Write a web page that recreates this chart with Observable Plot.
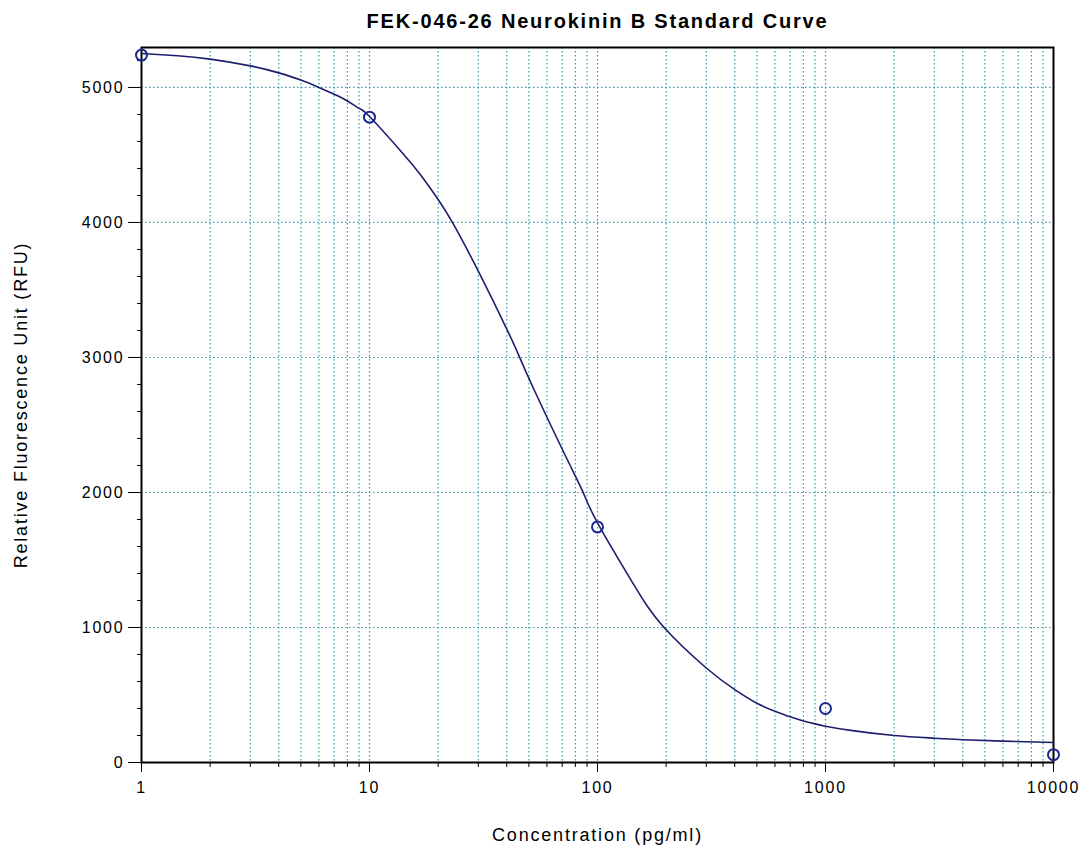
<!DOCTYPE html>
<html>
<head>
<meta charset="utf-8">
<script src="https://cdn.jsdelivr.net/npm/d3@7"></script>
<script src="https://cdn.jsdelivr.net/npm/@observablehq/plot@0.6"></script>
<style>
  html, body { margin: 0; padding: 0; background: #fff; }
  #chart svg text { letter-spacing: 1.8px; }
</style>
</head>
<body>
<div id="chart"></div>
<script>
// Measured standards
const stdConc = [1, 10, 100, 1000, 10000];
const stdRFU = [5240, 4780, 1745, 400, 58];

// Fitted curve
const curveConc = [1, 1.44, 2, 3, 4, 5, 6, 7, 8, 9, 10, 13.7, 16.7, 20, 23.1, 30, 40, 45.3, 52.4, 71, 86, 100, 144, 195, 300, 400, 500, 600, 700, 800, 900, 1000, 1290, 2000, 3000, 4000, 6000, 10000];
const curveRFU = [5252, 5235, 5210, 5160, 5108, 5055, 5000, 4950, 4900, 4845, 4785, 4530, 4355, 4170, 4000, 3640, 3210, 3010, 2770, 2300, 2010, 1775, 1320, 1003, 700, 540, 439, 380, 338, 308, 286, 269, 238, 200, 180, 168, 158, 148];

// Axis ticks
const xMajor = [1, 10, 100, 1000, 10000];
const xMinor = [2,3,4,5,6,7,8,9,20,30,40,50,60,70,80,90,200,300,400,500,600,700,800,900,2000,3000,4000,5000,6000,7000,8000,9000];
const yMajor = [0, 1000, 2000, 3000, 4000, 5000];
const yMinor = [200,400,600,800,1200,1400,1600,1800,2200,2400,2600,2800,3200,3400,3600,3800,4200,4400,4600,4800,5200];

const titleText = "FEK-046-26 Neurokinin B Standard Curve";
const xLabel = "Concentration (pg/ml)";
const yLabel = "Relative Fluorescence Unit (RFU)";

const curve = curveConc.map((c, i) => ({c, v: curveRFU[i]}));
const stds = stdConc.map((c, i) => ({c, v: stdRFU[i]}));
const gridX = xMajor.concat(xMinor).filter(d => d > 1 && d < 10000);
const gridY = yMajor.filter(d => d > 0);

const gridColor = "#2e9fae";
const navy = "#1e1e6e";

const plot = Plot.plot({
  width: 1092,
  height: 848,
  marginLeft: 141,
  marginRight: 39,
  marginTop: 47,
  marginBottom: 86,
  style: {fontFamily: "'Liberation Sans', Arial, sans-serif", fontSize: "16px", color: "#000", background: "#fff"},
  x: {type: "log", domain: [1, 10000]},
  y: {domain: [0, 5296]},
  marks: [
    Plot.ruleX(gridX, {stroke: gridColor, strokeDasharray: "1.5,2.5", strokeWidth: 1.2}),
    Plot.ruleY(gridY, {stroke: gridColor, strokeDasharray: "1.5,2.5", strokeWidth: 1.2}),
    Plot.axisX(xMinor, {tickSize: 5, text: null, stroke: "#000", label: null}),
    Plot.axisX(xMajor, {tickSize: 10, tickPadding: 9, tickFormat: d => String(d), stroke: "#000", fill: "#000", label: null, fontSize: 16}),
    Plot.axisY(yMinor, {tickSize: 4, text: null, stroke: "#000", label: null}),
    Plot.axisY(yMajor, {tickSize: 13, tickPadding: 4, tickFormat: d => String(d), stroke: "#000", fill: "#000", label: null, fontSize: 16}),
    Plot.frame({stroke: "#000", strokeWidth: 2}),
    Plot.line(curve, {x: "c", y: "v", stroke: navy, strokeWidth: 1.6, curve: "natural"}),
    Plot.dot(stds, {x: "c", y: "v", r: 5.5, stroke: "#1a2a95", strokeWidth: 2, fill: "none"}),
    Plot.text([titleText], {frameAnchor: "top", dy: -26, fontWeight: "bold", fontSize: 20, fill: "#000", lineAnchor: "middle"}),
    Plot.text([xLabel], {frameAnchor: "bottom", dy: 73, fontSize: 18, fill: "#000", lineAnchor: "middle"}),
    Plot.text([yLabel], {frameAnchor: "left", dx: -120, rotate: -90, fontSize: 18, fill: "#000", lineAnchor: "middle", textAnchor: "middle"})
  ]
});
document.getElementById("chart").appendChild(plot);
</script>
</body>
</html>
